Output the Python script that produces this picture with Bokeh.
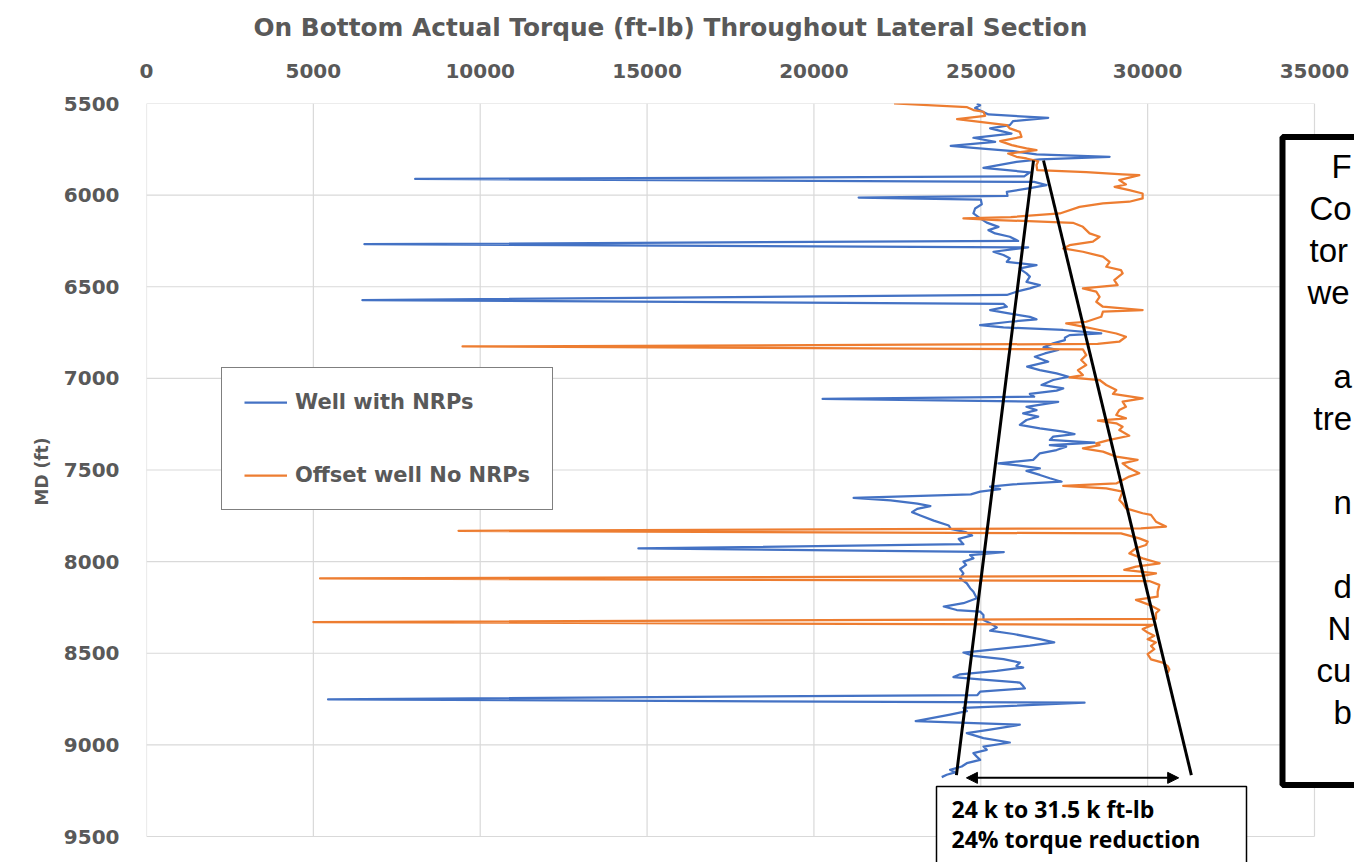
from bokeh.plotting import figure
from bokeh.models import (Range1d, FixedTicker, Label, BoxAnnotation, Arrow,
                          NormalHead, Legend, LegendItem, Title)
from bokeh.embed import file_html
from bokeh.resources import INLINE

# ---------------- data ----------------
title_text = "On Bottom Actual Torque (ft-lb) Throughout Lateral Section"
y_axis_title = "MD (ft)"
x_ticks = [0, 5000, 10000, 15000, 20000, 25000, 30000, 35000]
y_ticks = [5500, 6000, 6500, 7000, 7500, 8000, 8500, 9000, 9500]
legend_labels = ["Well with NRPs", "Offset well No NRPs"]

blue_md = [5500, 5509, 5524, 5542, 5560, 5578, 5596, 5618, 5636, 5664, 5687, 5709, 5731, 5742,
           5760, 5778, 5791, 5805, 5818, 5851, 5876, 5898, 5912, 5928, 5945, 5962, 5982, 6004,
           6013, 6024, 6050, 6073, 6100, 6127, 6150, 6173, 6191, 6209, 6227, 6250, 6268, 6285,
           6309, 6327, 6345, 6364, 6382, 6400, 6415, 6427, 6445, 6473, 6491, 6509, 6527, 6545,
           6573, 6593, 6609, 6627, 6649, 6664, 6678, 6691, 6709, 6722, 6736, 6755, 6764, 6778,
           6791, 6809, 6831, 6845, 6864, 6882, 6909, 6936, 6955, 6973, 6991, 7009, 7036, 7055,
           7067, 7085, 7100, 7112, 7128, 7155, 7173, 7191, 7209, 7227, 7254, 7273, 7291, 7304,
           7318, 7336, 7351, 7364, 7373, 7391, 7409, 7427, 7445, 7464, 7476, 7491, 7505, 7527,
           7545, 7564, 7578, 7591, 7604, 7618, 7633, 7652, 7666, 7684, 7697, 7712, 7730, 7748,
           7776, 7803, 7821, 7839, 7857, 7876, 7905, 7928, 7948, 7964, 7982, 8000, 8018, 8040,
           8064, 8091, 8118, 8145, 8164, 8200, 8227, 8245, 8264, 8273, 8291, 8318, 8336, 8359,
           8377, 8395, 8423, 8441, 8459, 8478, 8496, 8514, 8532, 8551, 8569, 8578, 8596, 8615,
           8630, 8642, 8660, 8679, 8692, 8710, 8728, 8752, 8770, 8798, 8816, 8835, 8870, 8890,
           8918, 8936, 8963, 8987, 9009, 9027, 9045, 9064, 9082, 9100, 9118, 9136, 9150, 9163,
           9176]
blue_torque = [24880, 24980, 24830, 25030, 25230, 27020, 25970, 25870, 25280, 25920, 24780, 25430, 24100, 24780,
               25970, 26670, 28860, 26770, 26070, 25080, 26470, 26300, 8050, 26600, 26970, 26470, 25780, 25800,
               21340, 25000, 25030, 24830, 24780, 24980, 25180, 25530, 25230, 25430, 25870, 26120, 6530, 26420,
               25380, 25680, 25870, 25780, 26670, 26170, 26270, 26370, 26470, 26370, 26770, 26470, 26070, 25780,
               6470, 25680, 25780, 25280, 25970, 26470, 26670, 25870, 24980, 25680, 27470, 28610, 27660, 27520,
               27520, 27170, 26880, 27320, 26920, 26620, 27020, 26390, 26770, 27270, 27630, 27170, 26820, 27470,
               27270, 26470, 26600, 20260, 27320, 26370, 26670, 26270, 26720, 26370, 26170, 26770, 27470, 27810,
               27170, 27070, 28410, 27070, 27560, 27270, 26770, 26670, 26570, 25530, 26170, 26770, 26370, 26770,
               27070, 27420, 25970, 25280, 25580, 24980, 24700, 21190, 22300, 23100, 23490, 23095, 22940, 23190,
               23590, 24040, 24100, 24540, 24740, 24340, 24480, 14740, 25690, 24680, 24780, 24480, 24560, 24380,
               24480, 24380, 24580, 24680, 24780, 24880, 24480, 23890, 24280, 24980, 25080, 25080, 25280, 25480,
               25280, 25980, 26770, 27200, 26470, 25480, 24480, 24780, 25680, 26170, 26070, 26270, 25480, 24380,
               24180, 24980, 26170, 26270, 26320, 24980, 24900, 5440, 28110, 24480, 24580, 24080, 23050, 26170,
               25230, 24580, 25080, 25870, 25080, 25180, 24780, 24880, 24980, 24580, 24430, 24080, 24230, 23980,
               23830]

orange_md = [5500, 5520, 5536, 5545, 5567, 5585, 5618, 5636, 5655, 5682, 5705, 5727, 5745, 5754,
             5773, 5791, 5800, 5815, 5836, 5864, 5875, 5887, 5891, 5918, 5942, 5955, 5973, 5991,
             6018, 6036, 6045, 6064, 6100, 6120, 6127, 6136, 6151, 6173, 6209, 6227, 6254, 6273,
             6291, 6309, 6336, 6364, 6391, 6409, 6427, 6464, 6491, 6509, 6527, 6555, 6582, 6609,
             6627, 6636, 6664, 6691, 6700, 6718, 6736, 6755, 6773, 6800, 6812, 6826, 6842, 6873,
             6900, 6927, 6955, 6982, 6995, 7009, 7036, 7064, 7085, 7109, 7127, 7155, 7173, 7200,
             7218, 7231, 7245, 7264, 7282, 7313, 7336, 7355, 7364, 7382, 7400, 7427, 7445, 7464,
             7491, 7518, 7536, 7555, 7573, 7587, 7600, 7618, 7664, 7682, 7709, 7736, 7745, 7782,
             7809, 7818, 7832, 7846, 7873, 7891, 7909, 7927, 7955, 7982, 8009, 8027, 8045, 8064,
             8078, 8092, 8106, 8127, 8164, 8191, 8209, 8236, 8264, 8282, 8312, 8330, 8345, 8368,
             8387, 8405, 8423, 8441, 8460, 8478, 8505, 8533, 8551, 8570, 8588, 8606]
orange_torque = [22400, 24590, 24780, 25080, 25130, 24290, 25780, 25870, 26170, 26220, 25580, 25930, 26370, 26670,
                 25820, 26070, 26370, 26720, 26670, 26690, 28160, 29250, 29750, 29150, 29350, 29010, 29450, 29850,
                 29850, 29450, 28660, 27960, 27370, 25900, 24480, 25480, 27760, 28060, 28260, 28560, 28360, 27660,
                 27470, 28060, 28660, 28860, 28760, 29200, 29250, 29000, 29100, 28060, 28460, 28560, 28460, 28660,
                 29850, 28660, 28610, 28160, 27560, 28060, 28560, 29060, 29350, 29150, 28500, 9470, 28060, 28160,
                 28010, 28160, 27910, 28060, 27660, 28560, 28760, 29060, 28960, 29850, 29250, 29350, 29150, 29060,
                 29350, 28510, 29060, 29250, 29150, 29450, 28860, 28460, 28560, 28060, 28660, 29060, 29700, 29250,
                 29450, 29750, 29450, 29250, 29060, 27470, 28760, 29250, 29150, 29250, 29350, 29850, 30100, 30250,
                 30550, 29800, 9350, 29200, 29750, 30000, 29950, 29650, 29450, 29850, 30360, 29650, 29300, 30250,
                 29850, 5200, 30050, 30350, 30300, 30300, 29650, 30050, 30350, 30250, 30250, 5000, 30150, 29850,
                 30000, 30200, 30000, 30250, 30100, 30200, 30000, 30100, 30450, 30600, 30650, 30600]

# trend envelope lines and reduction arrow
trend_md = [5811, 9165]
trend_left_torque = [26580, 24270]
trend_right_torque = [26880, 31310]
arrow_torque = [24570, 30930]
arrow_md = [9180, 9180]

note_lines = ["24 k to 31.5 k ft-lb", "24% torque reduction"]
side_fragments = ["F", "Co", "tor", "we", "a", "tre", "n", "d", "N", "cu", "b"]

# ---------------- layout (page pixels) ----------------
W, H = 1354, 862
FRAME_L, FRAME_T = 146, 103          # frame starts here, extends to canvas right/bottom
PLOT_R, PLOT_B = 1314, 836           # where 35000 / 9500 fall


def sx(px):
    return px - FRAME_L


def sy(py):
    return H - py


# extend ranges so the frame reaches the canvas edges (annotations are clipped to the frame)
x_per_px = (x_ticks[-1] - x_ticks[0]) / (PLOT_R - FRAME_L)
y_per_px = (y_ticks[-1] - y_ticks[0]) / (PLOT_B - FRAME_T)
x_end = x_ticks[-1] + (W - PLOT_R) * x_per_px
y_end = y_ticks[-1] + (H - PLOT_B) * y_per_px

GRAY = "#595959"
BLUE = "#4472C4"
ORANGE = "#ED7D31"
GRID = "#d9d9d9"

p = figure(width=W, height=H, output_backend="svg", toolbar_location=None,
           x_range=Range1d(x_ticks[0], x_end), y_range=Range1d(y_end, y_ticks[0]),
           x_axis_location="above",
           min_border_left=FRAME_L, min_border_right=0, min_border_top=FRAME_T, min_border_bottom=0)
p.background_fill_color = "white"
p.border_fill_color = "white"
p.outline_line_color = None
p.xgrid.visible = False
p.ygrid.visible = False

p.xaxis.ticker = FixedTicker(ticks=x_ticks)
p.yaxis.ticker = FixedTicker(ticks=y_ticks)
for ax in (p.xaxis[0], p.yaxis[0]):
    ax.axis_line_color = None
    ax.major_tick_line_color = None
    ax.minor_tick_line_color = None
    ax.major_tick_out = 0
    ax.major_tick_in = 0
    ax.major_label_text_font = "DejaVu Sans"
    ax.major_label_text_font_style = "bold"
    ax.major_label_text_font_size = "20px"
    ax.major_label_text_color = GRAY
p.xaxis.major_label_standoff = 26
p.yaxis.major_label_standoff = 27

# y axis title as a side title so it can be placed like the reference
p.add_layout(Title(text=y_axis_title, align="left", offset=sy(505), vertical_align="middle",
                   standoff=16, text_font="DejaVu Sans", text_font_style="bold",
                   text_font_size="17px", text_color=GRAY), "left")

# chart title
p.title.text = title_text
p.title.align = "left"
p.title.offset = 253 - FRAME_L
p.title.standoff = 0
p.title.padding = dict(left=0, right=0, top=0, bottom=19)
p.title.text_font = "DejaVu Sans"
p.title.text_font_style = "bold"
p.title.text_font_size = "24.8px"
p.title.text_color = GRAY

# grid lines limited to the plotting area
nx, ny = len(x_ticks), len(y_ticks)
p.segment(x0=x_ticks, y0=[y_ticks[0]] * nx, x1=x_ticks, y1=[y_ticks[-1]] * nx,
          line_color=GRID, line_width=1.2)
p.segment(x0=[x_ticks[0]] * ny, y0=y_ticks, x1=[x_ticks[-1]] * ny, y1=y_ticks,
          line_color=GRID, line_width=1.2)

r_blue = p.line(blue_torque, blue_md, line_color=BLUE, line_width=2.25, line_join="round")
r_orange = p.line(orange_torque, orange_md, line_color=ORANGE, line_width=2.25, line_join="round")

# trend envelope
p.line(trend_left_torque, trend_md, line_color="black", line_width=3)
p.line(trend_right_torque, trend_md, line_color="black", line_width=3)
p.add_layout(Arrow(x_start=arrow_torque[0], y_start=arrow_md[0], x_end=arrow_torque[1], y_end=arrow_md[1],
                   line_color="black", line_width=2,
                   start=NormalHead(size=11, fill_color="black", line_color="black"),
                   end=NormalHead(size=11, fill_color="black", line_color="black")))

legend = Legend(items=[LegendItem(label=legend_labels[0], renderers=[r_blue]),
                       LegendItem(label=legend_labels[1], renderers=[r_orange])],
                location=(sx(221), sy(510)))
legend.border_line_color = "black"
legend.border_line_width = 1.5
legend.background_fill_color = "white"
legend.background_fill_alpha = 1
legend.label_text_font = "DejaVu Sans"
legend.label_text_font_style = "bold"
legend.label_text_font_size = "21px"
legend.label_text_color = GRAY
legend.glyph_width = 43
legend.glyph_height = 24
legend.label_height = 24
legend.label_standoff = 8
legend.padding = 22
legend.spacing = 49
legend.margin = 0
p.add_layout(legend)

# note box at bottom
p.add_layout(BoxAnnotation(left=sx(936), right=sx(1246), top=sy(786), bottom=sy(890),
                           left_units="screen", right_units="screen", top_units="screen",
                           bottom_units="screen", fill_color="white", fill_alpha=1,
                           line_color="black", line_width=1.5, line_alpha=1))
for txt, py in zip(note_lines, [808, 838]):
    p.add_layout(Label(x=sx(951), y=sy(py), x_units="screen", y_units="screen", text=txt,
                       text_align="left", text_baseline="middle", text_font="Open Sans",
                       text_font_style="bold", text_font_size="23px", text_color="black"))

# side comment box (cut off by the page edge)
p.add_layout(BoxAnnotation(left=sx(1282), right=sx(1420), top=sy(136.5), bottom=sy(784.5),
                           left_units="screen", right_units="screen", top_units="screen",
                           bottom_units="screen", fill_color="white", fill_alpha=1,
                           line_color="black", line_width=6, line_alpha=1))
frag_x = [1331, 1309, 1309, 1307, 1333, 1313, 1333, 1333, 1327, 1316, 1333]
frag_y = [166, 208, 250, 292, 376, 418, 502, 586, 628, 670, 712]
for txt, fx, fy in zip(side_fragments, frag_x, frag_y):
    p.add_layout(Label(x=sx(fx), y=sy(fy), x_units="screen", y_units="screen", text=txt,
                       text_align="left", text_baseline="middle", text_font="Liberation Sans",
                       text_font_size="33px", text_color="black"))

open("out.html", "w").write(file_html(p, INLINE))
